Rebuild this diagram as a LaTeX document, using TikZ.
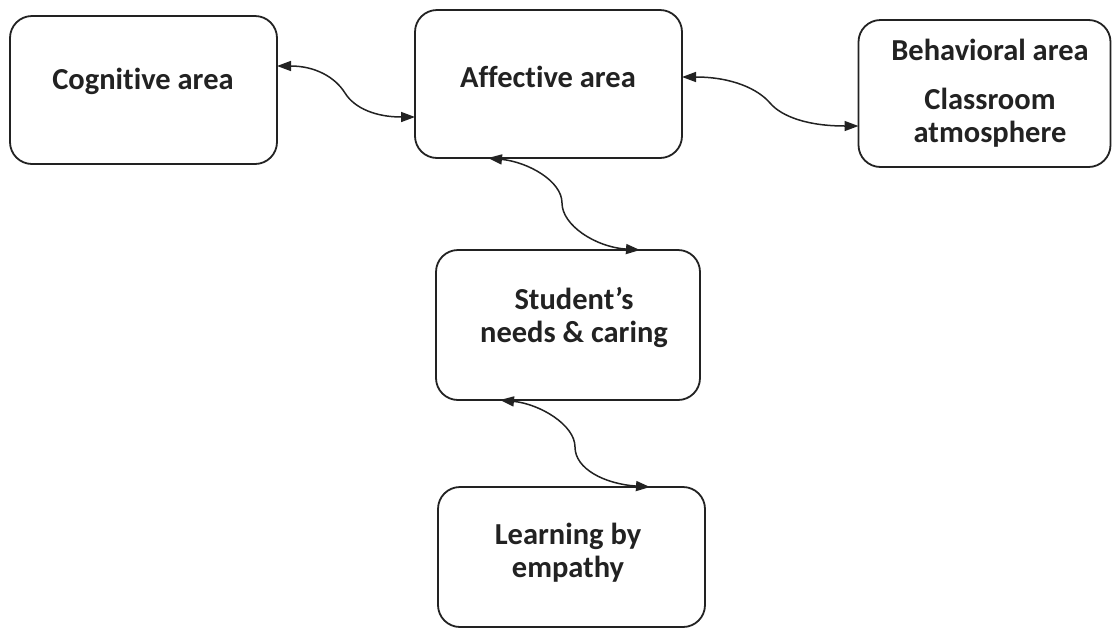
\documentclass[tikz,border=0pt]{standalone}
\usepackage{fontspec}
\setmainfont{Carlito}[Ligatures={NoCommon}]
\usetikzlibrary{arrows.meta,calc}
\definecolor{ink}{HTML}{222222}
\tikzset{
  box/.style={draw=ink, line width=1.8pt, rounded corners=22pt, inner sep=0pt, outer sep=0pt},
  txt/.style={font=\bfseries\fontsize{30.5}{33}\selectfont, text=ink, align=center, inner sep=0pt},
  conn/.style={draw=ink, line width=1.5pt, {Triangle[length=14pt,width=10pt]}-{Triangle[length=14pt,width=10pt]}}
}
\begin{document}
\begin{tikzpicture}[x=1pt,y=-1pt]
\useasboundingbox[fill=white] (0,0) rectangle (1112,630);
% boxes
\node[box, minimum width=267pt, minimum height=148pt] (cog) at (143.5,90) {};
\node[box, minimum width=267pt, minimum height=148pt] (aff) at (548.5,84) {};
\node[box, minimum width=252pt, minimum height=147pt] (beh) at (984.5,93.5) {};
\node[box, minimum width=264pt, minimum height=150pt] (stu) at (568,325) {};
\node[box, minimum width=267pt, minimum height=140pt] (lea) at (571.5,557) {};
% texts
\node[txt] (cogt) at (143,81) {Cognitive area};
\node[txt] (afft) at (548,77) {Affective area};
\node[txt] (beht) at (990,50) {Behavioral area};
\node[txt] (behs) at (990,118) {Classroom\\atmosphere};
\node[txt] (stut) at (574,317) {Student’s\\needs \& caring};
\node[txt] (leat) at (568,553) {Learning by\\empathy};
% connectors
\coordinate (m1) at (345,93);
\coordinate (m2) at (770,103);
\coordinate (m3) at (562,203);
\coordinate (m4) at (575,447);
\draw[conn] ($(cog.north east)+(0,50)$) .. controls +(38,0) and +(-10,-16) .. (m1)
  .. controls +(10,16) and +(-38,0) .. ($(aff.north west)+(0,107)$);
\draw[conn] ($(aff.north east)+(0,67)$) .. controls +(50,0) and +(-12,-14) .. (m2)
  .. controls +(12,14) and +(-50,0) .. ($(beh.north west)+(0,106)$);
\draw[conn] ($(aff.south west)+(73,0)$) .. controls +(40,4) and +(0,-22) .. (m3)
  .. controls +(0,22) and +(-45,-3) .. ($(stu.north west)+(204,0)$);
\draw[conn] ($(stu.south west)+(64,0)$) .. controls +(40,4) and +(0,-22) .. (m4)
  .. controls +(0,22) and +(-45,-3) .. ($(lea.north west)+(212,0)$);
\end{tikzpicture}
\end{document}
